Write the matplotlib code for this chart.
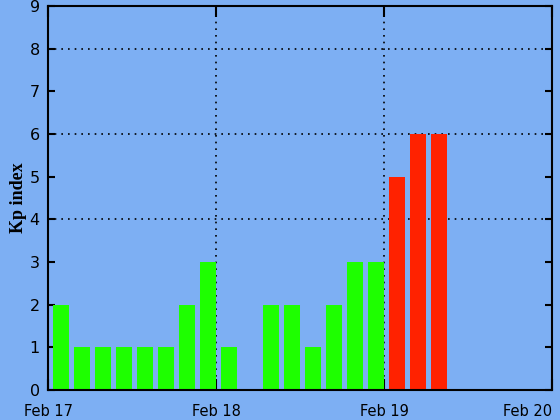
import matplotlib
matplotlib.use("Agg")
from matplotlib import pyplot as plt
import numpy as np

# Kp index, 3-hour bins starting Feb 17 00 UT (None = no data)
kp_values = [2, 1, 1, 1, 1, 1, 2, 3,
             1, None, 2, 2, 1, 2, 3, 3,
             5, 6, 6, None, None, None, None, None]
day_labels = ["Feb 17", "Feb 18", "Feb 19", "Feb 20"]
y_ticks = list(range(10))
grid_levels = [4, 6, 8]

bg = "#7daff3"
green = "#1eff00"
red = "#ff2200"

fig = plt.figure(figsize=(5.6, 4.2), dpi=100, facecolor=bg)
ax = fig.add_axes([48 / 560, 30 / 420, 504 / 560, 384 / 420], facecolor=bg)

# bars, one per 3-hour interval
hours = np.arange(len(kp_values)) * 3
for h, v in zip(hours, kp_values):
    if v is None:
        continue
    col = red if v >= 5 else green
    ax.bar(h + 0.75, v, width=2.25, align="edge", color=col, zorder=2)

ax.set_xlim(0, 72)
ax.set_ylim(0, 9)

# dotted grid
for g in grid_levels:
    ax.axhline(g, color="black", lw=1.2, ls=(0, (1, 3)), zorder=1)
for d in (24, 48):
    ax.axvline(d, color="black", lw=1.2, ls=(0, (1, 3)), zorder=1)

ax.set_xticks([0, 24, 48, 72])
ax.set_xticklabels(day_labels, fontsize=10.5)
# last label kept inside the figure
ax.get_xticklabels()[-1].set_horizontalalignment("right")
ax.set_xticks(hours + 1.875, minor=True)
ax.set_yticks(y_ticks)
ax.set_yticklabels([str(t) for t in y_ticks], fontsize=11.5)

ax.tick_params(axis="x", which="major", direction="in", length=8, width=1.5,
               top=True, pad=10)
ax.tick_params(axis="x", which="minor", direction="in", length=8, width=1,
               color=bg, top=False)
ax.tick_params(axis="y", which="major", direction="in", length=5, width=1.5,
               right=True, pad=6)
for s in ax.spines.values():
    s.set_linewidth(1.5)
    s.set_zorder(3)

ax.set_ylabel("Kp index", family="Liberation Serif", fontweight="bold",
              fontsize=13, labelpad=2)

fig.savefig("out.png", dpi=100, facecolor=bg)
